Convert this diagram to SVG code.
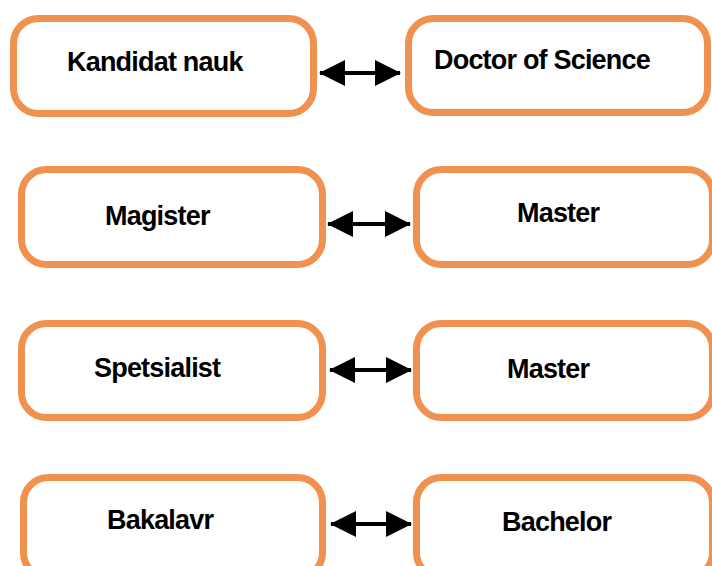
<svg xmlns="http://www.w3.org/2000/svg" width="712" height="566" viewBox="0 0 712 566">
<style>
.box{fill:#fff;stroke:#F09150;stroke-width:7}
.lbl{font-family:"Liberation Sans",Arial,sans-serif;font-size:27px;font-weight:bold;fill:#000;letter-spacing:-0.8px}
.conn{stroke:#000;stroke-width:4}
</style>
<defs>
<marker id="ah" markerUnits="userSpaceOnUse" markerWidth="26" markerHeight="26" refX="25" refY="13" orient="auto-start-reverse" viewBox="0 0 26 26">
<path d="M0,0 L26,13 L0,26 Z" fill="#000"/>
</marker>
</defs>
<rect width="712" height="566" fill="#fff"/>
<g id="n1"><rect class="box" x="13.5" y="18.5" width="300" height="95" rx="25"/><text class="lbl" x="67" y="71">Kandidat nauk</text></g>
<g id="n2"><rect class="box" x="408.5" y="18.5" width="299" height="94" rx="25"/><text class="lbl" x="434" y="69">Doctor of Science</text></g>
<g id="n3"><rect class="box" x="21.5" y="169.5" width="301" height="95" rx="25"/><text class="lbl" x="105" y="225">Magister</text></g>
<g id="n4"><rect class="box" x="416.5" y="169.5" width="296" height="95" rx="25"/><text class="lbl" x="517" y="222">Master</text></g>
<g id="n5"><rect class="box" x="21.5" y="323.5" width="301" height="94" rx="25"/><text class="lbl" x="94" y="377">Spetsialist</text></g>
<g id="n6"><rect class="box" x="416.5" y="323.5" width="296" height="94" rx="25"/><text class="lbl" x="507" y="378">Master</text></g>
<g id="n7"><rect class="box" x="23.5" y="477.5" width="299" height="100" rx="25"/><text class="lbl" x="107" y="529">Bakalavr</text></g>
<g id="n8"><rect class="box" x="416.5" y="477.5" width="296" height="100" rx="25"/><text class="lbl" x="502" y="531">Bachelor</text></g>
<g id="connectors">
<line class="conn" x1="320" y1="73" x2="400" y2="73" marker-start="url(#ah)" marker-end="url(#ah)"/>
<line class="conn" x1="328" y1="224" x2="410" y2="224" marker-start="url(#ah)" marker-end="url(#ah)"/>
<line class="conn" x1="330" y1="370" x2="411" y2="370" marker-start="url(#ah)" marker-end="url(#ah)"/>
<line class="conn" x1="331" y1="524" x2="411" y2="524" marker-start="url(#ah)" marker-end="url(#ah)"/>
</g>
</svg>
